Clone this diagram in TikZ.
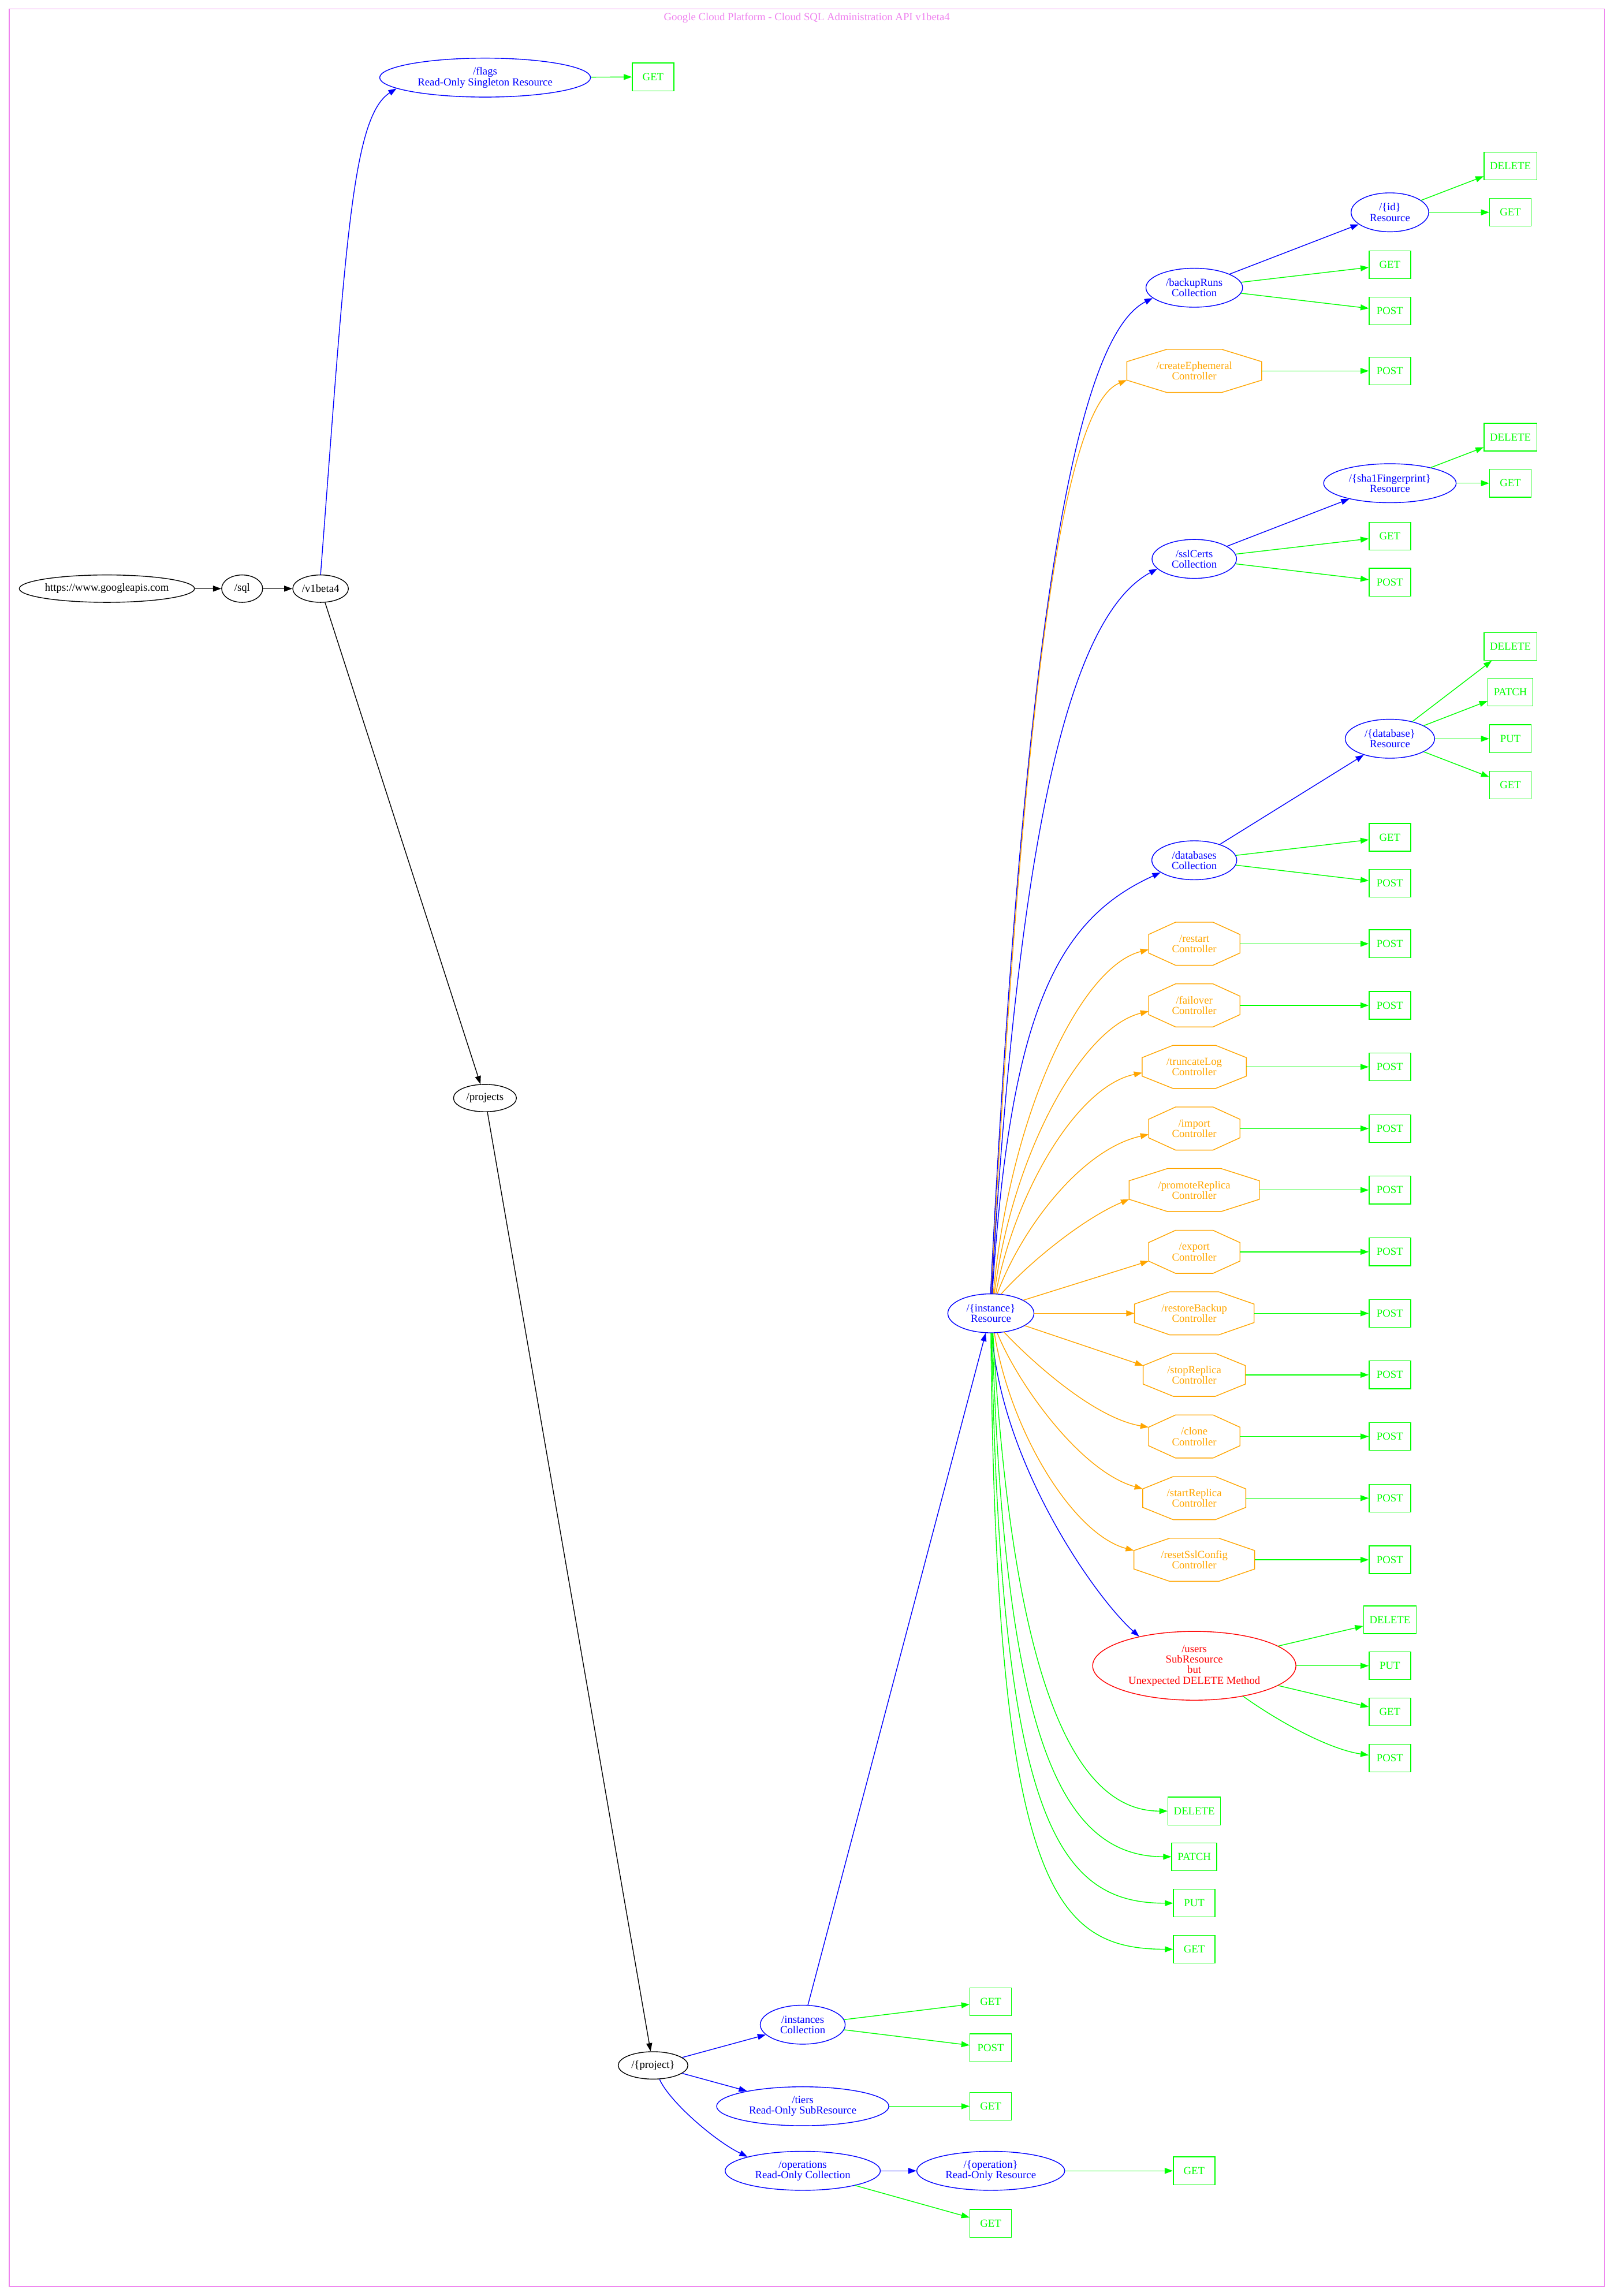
\documentclass[tikz,border=0pt]{standalone}
\usepackage{fontspec}
\setmainfont{Liberation Serif}
\usepackage{tikz}
\usetikzlibrary{shapes.geometric, arrows.meta, positioning, calc}
\definecolor{gvgreen}{RGB}{0, 255, 0}
\definecolor{gvblue}{RGB}{0, 0, 255}
\definecolor{gvorange}{RGB}{255, 165, 0}
\definecolor{gvred}{RGB}{255, 0, 0}
\definecolor{gvviolet}{RGB}{238, 130, 238}

\begin{document}
\begin{tikzpicture}[
    x=1pt, y=-1pt,
    every node/.style={font=\fontsize{7.4pt}{7.2pt}\selectfont, inner sep=0pt, align=center},
    root/.style={ellipse, draw=black, line width=0.55pt, minimum height=18.7pt},
    res/.style={ellipse, draw=gvblue, text=gvblue, line width=0.55pt, minimum height=26.6pt},
    ctrl/.style={rectangle, text=gvorange, minimum height=29pt},
    verb/.style={rectangle, draw=gvgreen, text=gvgreen, line width=0.55pt, inner xsep=4pt, minimum width=28.4pt, minimum height=19pt},
    oops/.style={ellipse, draw=gvred, text=gvred, line width=0.55pt},
    link/.style={-{Triangle[length=5.6pt, width=4pt]}, line width=0.55pt},
    klink/.style={link, black},
    blink/.style={link, gvblue},
    olink/.style={link, gvorange},
    glink/.style={link, gvgreen}
  ]
  \useasboundingbox (0,0) rectangle (1102,1568);
  \draw[gvviolet, line width=0.6pt] (6.3,6.2) rectangle (1095.8,1561.5);
  \node[text=gvviolet] (title) at (551,12) {Google Cloud Platform - Cloud SQL Administration API v1beta4};

  % root path
  \node[root, minimum width=117.6pt] (googleapis) at (73,402) {https://www.googleapis.com};
  \node[root, minimum width=28pt, right=18pt of googleapis] (sql) {/sql};
  \node[root, minimum width=38pt, right=20pt of sql] (vbeta) {/v1beta4};
  \node[res, minimum width=144pt] (flags) at (331.3,53) {/flags\\Read-Only Singleton Resource};
  \node[verb] (flagsget) at (446,52.5) {GET};
  \node[root, minimum width=43pt] (projects) at (331.2,749.9) {/projects};
  \node[root, minimum width=47.6pt] (project) at (446,1410.5) {/\{project\}};

  % project level
  \node[res, minimum width=58pt] (instances) at (548.2,1382.7) {/instances\\Collection};
  \node[verb] (instancesget) at (676.6,1367) {GET};
  \node[verb] (instancespost) at (676.6,1398.5) {POST};
  \node[res, minimum width=117.6pt] (tiers) at (548.2,1438.4) {/tiers\\Read-Only SubResource};
  \node[verb] (tiersget) at (676.6,1438.4) {GET};
  \node[res, minimum width=106pt] (operations) at (548.2,1482.5) {/operations\\Read-Only Collection};
  \node[res, minimum width=101pt] (operation) at (676.6,1482.5) {/\{operation\}\\Read-Only Resource};
  \node[verb] (operationget) at (815.5,1482.5) {GET};
  \node[verb] (operationsget) at (676.6,1518.4) {GET};

  % instance level
  \node[res, minimum width=58.8pt] (instance) at (676.7,896.9) {/\{instance\}\\Resource};
  \node[res, minimum width=66pt] (backups) at (815.6,196.5) {/backupRuns\\Collection};
  \node[res, minimum width=53pt] (id) at (949.2,145) {/\{id\}\\Resource};
  \node[verb] (iddelete) at (1031.5,113.4) {DELETE};
  \node[verb] (idget) at (1031.5,145) {GET};
  \node[verb] (backupsget) at (949.2,180.9) {GET};
  \node[verb] (backupspost) at (949.2,212.3) {POST};
  \node[ctrl, minimum width=91.7pt] (ephemeral) at (815.6,253.3) {/createEphemeral\\Controller};
  \node[verb] (ephemeralpost) at (949.2,253.3) {POST};
  \node[res, minimum width=90.5pt] (finger) at (949.2,330) {/\{sha1Fingerprint\}\\Resource};
  \node[verb] (fingerdelete) at (1031.5,298.5) {DELETE};
  \node[verb] (fingerget) at (1031.5,330) {GET};
  \node[res, minimum width=57.7pt] (sslcerts) at (815.6,381.7) {/sslCerts\\Collection};
  \node[verb] (sslcertsget) at (949.2,366.2) {GET};
  \node[verb] (sslcertspost) at (949.2,397.6) {POST};
  \node[res, minimum width=61pt] (database) at (949.2,504.5) {/\{database\}\\Resource};
  \node[verb] (databasedelete) at (1031.5,441.5) {DELETE};
  \node[verb] (databasepatch) at (1031.5,472.7) {PATCH};
  \node[verb] (databaseput) at (1031.5,504.5) {PUT};
  \node[verb] (databaseget) at (1031.5,536.2) {GET};
  \node[res, minimum width=58pt] (databases) at (815.6,587.5) {/databases\\Collection};
  \node[verb] (databasesget) at (949.2,571.8) {GET};
  \node[verb] (databasespost) at (949.2,603.2) {POST};

  % controllers
  \node[ctrl, minimum width=62pt] (restart) at (815.6,644.5) {/restart\\Controller};
  \node[verb] (restartpost) at (949.2,644.5) {POST};
  \node[ctrl, minimum width=62pt] (failover) at (815.6,686.6) {/failover\\Controller};
  \node[verb] (failoverpost) at (949.2,686.6) {POST};
  \node[ctrl, minimum width=70.8pt] (truncatelog) at (815.6,728.6) {/truncateLog\\Controller};
  \node[verb] (truncatelogpost) at (949.2,728.6) {POST};
  \node[ctrl, minimum width=62pt] (import) at (815.6,770.7) {/import\\Controller};
  \node[verb] (importpost) at (949.2,770.7) {POST};
  \node[ctrl, minimum width=88.6pt] (promote) at (815.6,812.7) {/promoteReplica\\Controller};
  \node[verb] (promotepost) at (949.2,812.7) {POST};
  \node[ctrl, minimum width=62pt] (export) at (815.6,854.9) {/export\\Controller};
  \node[verb] (exportpost) at (949.2,854.9) {POST};
  \node[ctrl, minimum width=81.3pt] (restore) at (815.6,896.9) {/restoreBackup\\Controller};
  \node[verb] (restorepost) at (949.2,896.9) {POST};
  \node[ctrl, minimum width=69.4pt] (stopreplica) at (815.6,938.9) {/stopReplica\\Controller};
  \node[verb] (stopreplicapost) at (949.2,938.9) {POST};
  \node[ctrl, minimum width=62pt] (clone) at (815.6,981) {/clone\\Controller};
  \node[verb] (clonepost) at (949.2,981) {POST};
  \node[ctrl, minimum width=70pt] (startreplica) at (815.6,1023.1) {/startReplica\\Controller};
  \node[verb] (startreplicapost) at (949.2,1023.1) {POST};
  \node[ctrl, minimum width=82pt] (resetssl) at (815.6,1065.2) {/resetSslConfig\\Controller};
  \node[verb] (resetsslpost) at (949.2,1065.2) {POST};

  % users and instance methods
  \node[oops, minimum width=138.8pt, minimum height=47pt] (users) at (815.6,1137.6) {/users\\SubResource\\but\\Unexpected DELETE Method};
  \node[verb] (usersdelete) at (949.2,1106.2) {DELETE};
  \node[verb] (usersput) at (949.2,1137.6) {PUT};
  \node[verb] (usersget) at (949.2,1169.1) {GET};
  \node[verb] (userspost) at (949.2,1200.7) {POST};
  \node[verb] (instancedelete) at (815.6,1236.8) {DELETE};
  \node[verb] (instancepatch) at (815.6,1268) {PATCH};
  \node[verb] (instanceput) at (815.6,1299.7) {PUT};
  \node[verb] (instanceget) at (815.6,1331.2) {GET};

  % octagon outlines of the controllers
  \foreach \n in {ephemeral,restart,failover,truncatelog,import,promote,export,restore,stopreplica,clone,startreplica,resetssl}{
    \draw[gvorange, line width=0.55pt] ($(\n.north)!0.41!(\n.north west)$) -- ($(\n.north)!0.41!(\n.north east)$)
      -- ($(\n.east)!0.43!(\n.north east)$) -- ($(\n.east)!0.43!(\n.south east)$)
      -- ($(\n.south)!0.41!(\n.south east)$) -- ($(\n.south)!0.41!(\n.south west)$)
      -- ($(\n.west)!0.43!(\n.south west)$) coordinate (\n-ws)
      -- ($(\n.west)!0.43!(\n.north west)$) coordinate (\n-wn) -- cycle;
    \coordinate (\n-in) at ($(\n.west)+(0,4)$);
  }

  % root edges
  \draw[klink] (googleapis) -- (sql);
  \draw[klink] (sql) -- (vbeta);
  \draw[blink] (vbeta.north) .. controls (236,170) and (240,80) .. (flags.187);
  \draw[glink] (flags) -- (flagsget);
  \draw[klink] (vbeta) -- (projects);
  \draw[klink] (projects) -- (project);
  \draw[blink] (project) -- (instances);
  \draw[blink] (project) -- (tiers);
  \draw[blink] (project.-65) .. controls (457,1435) and (488,1462) .. (operations.north west);
  \draw[glink] (instances) -- (instancesget);
  \draw[glink] (instances) -- (instancespost);
  \draw[glink] (tiers) -- (tiersget);
  \draw[blink] (operations) -- (operation);
  \draw[glink] (operation) -- (operationget);
  \draw[glink] (operations) -- (operationsget);
  \draw[blink] (instances) -- (instance);

  % instance fan, upper half
  \draw[blink] (instance.91) .. controls (700,420) and (735,230) .. (backups.194);
  \draw[olink] (instance.89) .. controls (700,450) and (728,276) .. (ephemeral-ws);
  \draw[blink] (instance.88) .. controls (696,560) and (732,420) .. (sslcerts.195);
  \draw[blink] (instance.86) .. controls (690,690) and (722,628) .. (databases.200);
  \draw[olink] (instance.83) .. controls (690,760) and (738,660) .. (restart-in);
  \draw[olink] (instance.80) .. controls (691,790) and (738,702) .. (failover-in);
  \draw[olink] (instance.76) .. controls (693,815) and (735,742) .. (truncatelog-in);
  \draw[olink] (instance.72) .. controls (697,840) and (738,785) .. (import-in);
  \draw[olink] (instance.62) .. controls (703,862) and (740,832) .. (promote-ws);
  \draw[olink] (instance.22) -- (export-ws);
  \draw[olink] (instance) -- (restore);

  % instance fan, lower half
  \draw[olink] (instance.-20) -- (stopreplica-wn);
  \draw[olink] (instance.-55) .. controls (700,925) and (745,968) .. (clone-wn);
  \draw[olink] (instance.-72) .. controls (695,945) and (738,1005) .. (startreplica-wn);
  \draw[olink] (instance.-80) .. controls (690,978) and (733,1048) .. (resetssl-wn);
  \draw[blink] (instance.-87) .. controls (684,1000) and (748,1091) .. (users.152);
  \draw[glink] (instance.-84) .. controls (690,1120) and (725,1237) .. (instancedelete.west);
  \draw[glink] (instance.-86) .. controls (686,1180) and (722,1268) .. (instancepatch.west);
  \draw[glink] (instance.-88) .. controls (683,1240) and (721,1300) .. (instanceput.west);
  \draw[glink] (instance.-90) .. controls (680,1290) and (720,1331) .. (instanceget.west);

  % second and third columns
  \draw[blink] (backups) -- (id);
  \draw[glink] (id) -- (iddelete);
  \draw[glink] (id) -- (idget);
  \draw[glink] (backups) -- (backupsget);
  \draw[glink] (backups) -- (backupspost);
  \draw[glink] (ephemeral) -- (ephemeralpost);
  \draw[blink] (sslcerts) -- (finger);
  \draw[glink] (finger) -- (fingerdelete);
  \draw[glink] (finger) -- (fingerget);
  \draw[glink] (sslcerts) -- (sslcertsget);
  \draw[glink] (sslcerts) -- (sslcertspost);
  \draw[blink] (databases) -- (database);
  \draw[glink] (database) -- (databasedelete);
  \draw[glink] (database) -- (databasepatch);
  \draw[glink] (database) -- (databaseput);
  \draw[glink] (database) -- (databaseget);
  \draw[glink] (databases) -- (databasesget);
  \draw[glink] (databases) -- (databasespost);
  \draw[glink] (restart) -- (restartpost);
  \draw[glink] (failover) -- (failoverpost);
  \draw[glink] (truncatelog) -- (truncatelogpost);
  \draw[glink] (import) -- (importpost);
  \draw[glink] (promote) -- (promotepost);
  \draw[glink] (export) -- (exportpost);
  \draw[glink] (restore) -- (restorepost);
  \draw[glink] (stopreplica) -- (stopreplicapost);
  \draw[glink] (clone) -- (clonepost);
  \draw[glink] (startreplica) -- (startreplicapost);
  \draw[glink] (resetssl) -- (resetsslpost);
  \draw[glink] (users) -- (usersdelete);
  \draw[glink] (users) -- (usersput);
  \draw[glink] (users) -- (usersget);
  \draw[glink] (users.-32) .. controls (878,1179) and (910,1195) .. (userspost);
\end{tikzpicture}
\end{document}
